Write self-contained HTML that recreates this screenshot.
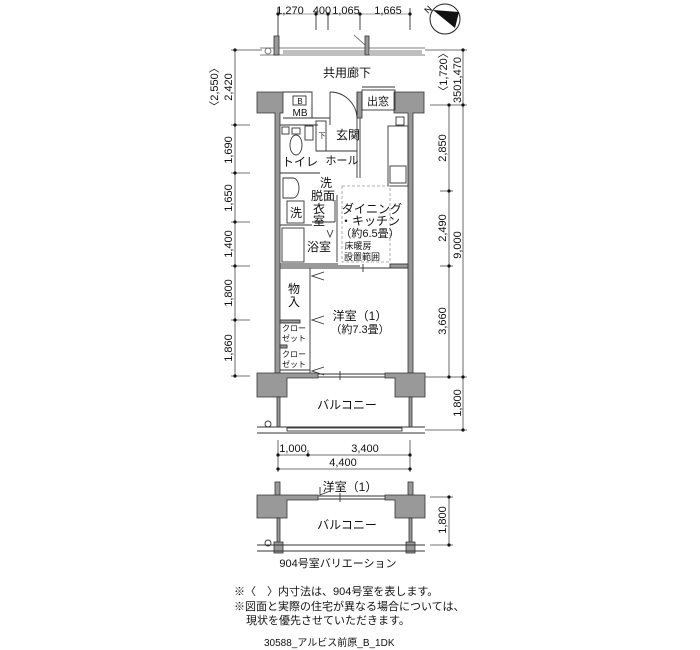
<!DOCTYPE html>
<html><head><meta charset="utf-8"><style>
html,body{margin:0;padding:0;background:#fff;}
svg{display:block;font-family:"Liberation Sans","Noto Sans CJK JP",sans-serif;}
</style></head><body>
<svg width="700" height="650" viewBox="0 0 700 650" xmlns="http://www.w3.org/2000/svg">
<g fill="#111" font-size="11">
<!-- top dims -->
<text x="290" y="14" text-anchor="middle">1,270</text>
<text x="322" y="14" text-anchor="middle">400</text>
<text x="346" y="14" text-anchor="middle">1,065</text>
<text x="388" y="14" text-anchor="middle">1,665</text>
</g>
<g stroke="#444" stroke-width="1" fill="none">
<line x1="278" y1="14" x2="410" y2="14" stroke="none"/>
<line x1="278" y1="8" x2="278" y2="45"/><line x1="316" y1="14" x2="316" y2="30"/><line x1="328" y1="14" x2="328" y2="30"/><line x1="360" y1="14" x2="360" y2="30"/><line x1="410" y1="8" x2="410" y2="30"/>
<line x1="278" y1="14" x2="410" y2="14" stroke-width="0.6"/>
</g>
<g fill="#111"><circle cx="278" cy="14" r="1.6"/><circle cx="316" cy="14" r="1.6"/><circle cx="328" cy="14" r="1.6"/><circle cx="360" cy="14" r="1.6"/><circle cx="410" cy="14" r="1.6"/></g>
<!-- compass -->
<circle cx="445" cy="19" r="15" fill="#fff" stroke="#222"/>
<polygon points="433,10 459,12 455,28" fill="#111"/>
<text x="428" y="14" font-size="9" transform="rotate(-45 428 14)">N</text>
<!-- corridor rail -->
<g stroke="#555" fill="none" stroke-width="0.8">
<line x1="260" y1="48" x2="425" y2="48"/><line x1="260" y1="55" x2="425" y2="55"/>
<line x1="283" y1="51" x2="365" y2="51"/><line x1="283" y1="53" x2="365" y2="53"/>
<line x1="370" y1="51" x2="422" y2="51"/><line x1="370" y1="53" x2="422" y2="53"/>
<circle cx="268" cy="51" r="3"/><line x1="354" y1="35" x2="365" y2="45"/>
</g>
<rect x="274" y="36" width="5" height="19" fill="#999" stroke="#333" stroke-width="0.8"/>
<rect x="365" y="36" width="4" height="19" fill="#999" stroke="#333" stroke-width="0.8"/>
<!-- left dims -->
<g stroke="#444" stroke-width="0.8"><line x1="235" y1="50" x2="235" y2="376"/>
<line x1="231" y1="50" x2="262" y2="50"/><line x1="231" y1="125" x2="250" y2="125"/><line x1="231" y1="173" x2="250" y2="173"/><line x1="231" y1="222" x2="250" y2="222"/><line x1="231" y1="266" x2="250" y2="266"/><line x1="231" y1="320" x2="250" y2="320"/><line x1="231" y1="376" x2="250" y2="376"/></g>
<g fill="#111"><circle cx="235" cy="50" r="1.6"/><circle cx="235" cy="125" r="1.6"/><circle cx="235" cy="173" r="1.6"/><circle cx="235" cy="222" r="1.6"/><circle cx="235" cy="266" r="1.6"/><circle cx="235" cy="320" r="1.6"/><circle cx="235" cy="376" r="1.6"/></g>
<g fill="#111" font-size="11" text-anchor="middle">
<text transform="translate(218,87) rotate(-90)">〈2,550〉</text>
<text transform="translate(232,87) rotate(-90)">2,420</text>
<text transform="translate(232,150) rotate(-90)">1,690</text>
<text transform="translate(232,198) rotate(-90)">1,650</text>
<text transform="translate(232,244) rotate(-90)">1,400</text>
<text transform="translate(232,293) rotate(-90)">1,800</text>
<text transform="translate(232,348) rotate(-90)">1,860</text>
<!-- right -->
<text transform="translate(447,72) rotate(-90)">〈1,720〉</text>
<text transform="translate(461,80) rotate(-90)">3501,470</text>
<text transform="translate(446,148) rotate(-90)">2,850</text>
<text transform="translate(446,228) rotate(-90)">2,490</text>
<text transform="translate(461,245) rotate(-90)">9,000</text>
<text transform="translate(446,321) rotate(-90)">3,660</text>
<text transform="translate(461,403) rotate(-90)">1,800</text>
<text transform="translate(446,520) rotate(-90)">1,800</text>
</g>
<g stroke="#444" stroke-width="0.8">
<line x1="449" y1="105" x2="449" y2="377"/><line x1="463" y1="50" x2="463" y2="430"/>
<line x1="425" y1="50" x2="467" y2="50"/><line x1="430" y1="105" x2="467" y2="105"/><line x1="440" y1="191" x2="453" y2="191"/><line x1="440" y1="266" x2="453" y2="266"/><line x1="425" y1="377" x2="467" y2="377"/><line x1="425" y1="430" x2="467" y2="430"/>
<line x1="449" y1="497" x2="449" y2="545"/><line x1="430" y1="497" x2="453" y2="497"/><line x1="430" y1="545" x2="453" y2="545"/>
</g>
<g fill="#111"><circle cx="449" cy="105" r="1.6"/><circle cx="463" cy="105" r="1.6"/><circle cx="463" cy="50" r="1.6"/><circle cx="449" cy="191" r="1.6"/><circle cx="449" cy="266" r="1.6"/><circle cx="449" cy="377" r="1.6"/><circle cx="463" cy="377" r="1.6"/><circle cx="463" cy="430" r="1.6"/><circle cx="449" cy="497" r="1.6"/><circle cx="449" cy="545" r="1.6"/></g>

<!-- plan walls -->
<g fill="#999" stroke="#333" stroke-width="0.8">
<path d="M257,92 H283 V113 H280 V373 H275 V113 H257 Z"/>
<path d="M394,92 H424 V113 H413 V373 H408 V113 H394 Z"/>
<path d="M357,92 H362 V118 H357 Z"/>
<path d="M257,373 H318 V378 H287 V397 H257 Z"/>
<path d="M385,373 H425 V397 H395 V378 H385 Z"/>
<rect x="277" y="397" width="3" height="30"/><rect x="409" y="397" width="3" height="30"/>
</g>
<g stroke="#333" fill="none" stroke-width="0.9">
<!-- MB -->
<path d="M283,92 H312 V118 H283"/><rect x="293" y="96" width="13" height="9"/>
<path d="M312,105 V118 H330"/><line x1="330" y1="92" x2="330" y2="125"/>
<path d="M330,92 A27,27 0 0 1 357,119"/><line x1="357" y1="92" x2="357" y2="119"/>
<rect x="362" y="90" width="33" height="20"/><line x1="362" y1="87" x2="395" y2="87"/>
<!-- toilet etc -->
<line x1="280" y1="125" x2="318" y2="125"/>
<rect x="282" y="127" width="7" height="7"/>
<ellipse cx="296" cy="145" rx="6" ry="10"/><rect x="292" y="128" width="8" height="6"/>
<rect x="305" y="126" width="8" height="14"/>
<rect x="316" y="121" width="10" height="30"/>
<line x1="316" y1="151" x2="357" y2="151"/>
<line x1="357" y1="118" x2="357" y2="178"/><line x1="360" y1="118" x2="360" y2="178"/>
<line x1="280" y1="173" x2="320" y2="173"/>
<!-- kitchen -->
<rect x="396" y="117" width="8" height="8"/>
<rect x="388" y="126" width="20" height="60"/><rect x="390" y="166" width="16" height="17"/>
<!-- wash -->
<path d="M283,178 H293 A6,10 0 0 1 293,198 H283 Z"/>
<rect x="287" y="201" width="17" height="22"/>
<line x1="280" y1="225" x2="312" y2="225"/><line x1="312" y1="222" x2="335" y2="222"/>
<line x1="337" y1="195" x2="337" y2="262"/><line x1="335" y1="200" x2="335" y2="222"/>
<rect x="282" y="228" width="22" height="34"/>
<line x1="280" y1="264" x2="338" y2="264"/>
<polyline points="327,230 330,237 333,230"/>
<!-- hall to room -->
<line x1="280" y1="268" x2="408" y2="268"/><line x1="280" y1="266" x2="360" y2="266"/>
<rect x="390" y="264" width="18" height="4" fill="#999"/>
<line x1="363" y1="264" x2="363" y2="272"/>
<line x1="310" y1="268" x2="310" y2="373"/>
<rect x="280" y="320" width="20" height="3" fill="#999"/>
<rect x="280" y="345" width="7" height="3" fill="#999"/>
<line x1="280" y1="370" x2="310" y2="370"/>
<polyline points="324,272 312,276 324,280"/>
<polyline points="324,316 312,320 324,324"/>
<polyline points="324,367 312,371 324,375"/>
<!-- window -->
<line x1="318" y1="374" x2="385" y2="374"/><line x1="318" y1="377" x2="385" y2="377"/>
<line x1="340" y1="371" x2="340" y2="380"/>
<!-- balcony rail -->
<line x1="257" y1="427" x2="425" y2="427"/><line x1="257" y1="433" x2="425" y2="433"/>
<rect x="287" y="428" width="115" height="3"/>
<circle cx="268" cy="424" r="3"/>
</g>
<rect x="342" y="186" width="48" height="76" fill="none" stroke="#999" stroke-dasharray="3,2" stroke-width="0.8"/>
<g fill="#111" font-size="12">
<text x="347" y="77" text-anchor="middle">共用廊下</text>
<text x="378" y="105" text-anchor="middle" font-size="11">出窓</text>
<text x="300" y="104" text-anchor="middle" font-size="8">B</text>
<text x="300" y="116" text-anchor="middle" font-size="10">MB</text>
<text x="348" y="139" text-anchor="middle">玄関</text>
<text x="322" y="138" font-size="7" text-anchor="middle">下</text>
<text x="300" y="166" text-anchor="middle">トイレ</text>
<text x="342" y="164" text-anchor="middle" font-size="11">ホール</text>
<text x="326" y="187" text-anchor="middle">洗</text>
<text x="323" y="200" text-anchor="middle">脱面</text>
<text x="319" y="213" text-anchor="middle">衣</text>
<text x="319" y="225" text-anchor="middle">室</text>
<text x="296" y="217" text-anchor="middle">洗</text>
<text x="319" y="251" text-anchor="middle">浴室</text>
<text x="372" y="213" text-anchor="middle">ダイニング</text>
<text x="370" y="225" text-anchor="middle">・キッチン</text>
<text x="370" y="237" text-anchor="middle" font-size="11">（約6.5畳）</text>
<text x="358" y="249" text-anchor="middle" font-size="9">床暖房</text>
<text x="362" y="260" text-anchor="middle" font-size="9">設置範囲</text>
<text x="294" y="293" text-anchor="middle">物</text>
<text x="294" y="306" text-anchor="middle">入</text>
<text x="360" y="320" text-anchor="middle">洋室（1）</text>
<text x="360" y="333" text-anchor="middle" font-size="11">（約7.3畳）</text>
<text x="294" y="331" text-anchor="middle" font-size="8">クロー</text>
<text x="294" y="341" text-anchor="middle" font-size="8">ゼット</text>
<text x="294" y="357" text-anchor="middle" font-size="8">クロー</text>
<text x="294" y="367" text-anchor="middle" font-size="8">ゼット</text>
<text x="347" y="409" text-anchor="middle">バルコニー</text>
</g>
<!-- bottom dims -->
<g stroke="#444" stroke-width="0.8"><line x1="278" y1="440" x2="278" y2="472"/><line x1="410" y1="440" x2="410" y2="472"/>
<line x1="278" y1="455" x2="410" y2="455"/><line x1="278" y1="469" x2="410" y2="469"/><line x1="308" y1="450" x2="308" y2="455"/></g>
<g fill="#111"><circle cx="278" cy="455" r="1.6"/><circle cx="308" cy="455" r="1.6"/><circle cx="410" cy="455" r="1.6"/><circle cx="278" cy="469" r="1.6"/><circle cx="410" cy="469" r="1.6"/></g>
<g fill="#111" font-size="11" text-anchor="middle">
<text x="293" y="452">1,000</text><text x="365" y="452">3,400</text><text x="343" y="466">4,400</text>
</g>
<!-- variation -->
<g fill="#999" stroke="#333" stroke-width="0.8">
<rect x="275" y="482" width="5" height="13"/><rect x="408" y="482" width="5" height="13"/>
<path d="M257,495 H318 V500 H287 V518 H257 Z"/>
<path d="M385,495 H425 V518 H395 V500 H385 Z"/>
<rect x="277" y="518" width="3" height="25"/><rect x="409" y="518" width="3" height="25"/>
<rect x="274" y="542" width="9" height="11"/><rect x="406" y="542" width="9" height="11"/>
</g>
<g stroke="#333" fill="none" stroke-width="0.9">
<line x1="318" y1="496" x2="385" y2="496"/><line x1="318" y1="499" x2="385" y2="499"/><line x1="340" y1="493" x2="340" y2="502"/>
<polyline points="320,487 320,495 330,491"/>
<line x1="257" y1="545" x2="425" y2="545"/><line x1="257" y1="551" x2="425" y2="551"/>
<circle cx="268" cy="543" r="3"/>
</g>
<g fill="#111" font-size="12">
<text x="350" y="491" text-anchor="middle">洋室（1）</text>
<text x="347" y="529" text-anchor="middle">バルコニー</text>
<text x="338" y="567" text-anchor="middle" font-size="11">904号室バリエーション</text>
<text x="234" y="595" font-size="11">※〈　〉内寸法は、904号室を表します。</text>
<text x="234" y="610" font-size="11">※図面と実際の住宅が異なる場合については、</text>
<text x="246" y="624" font-size="11">現状を優先させていただきます。</text>
<text x="264" y="646" font-size="10">30588_アルビス前原_B_1DK</text>
</g>
</svg>
</body></html>
